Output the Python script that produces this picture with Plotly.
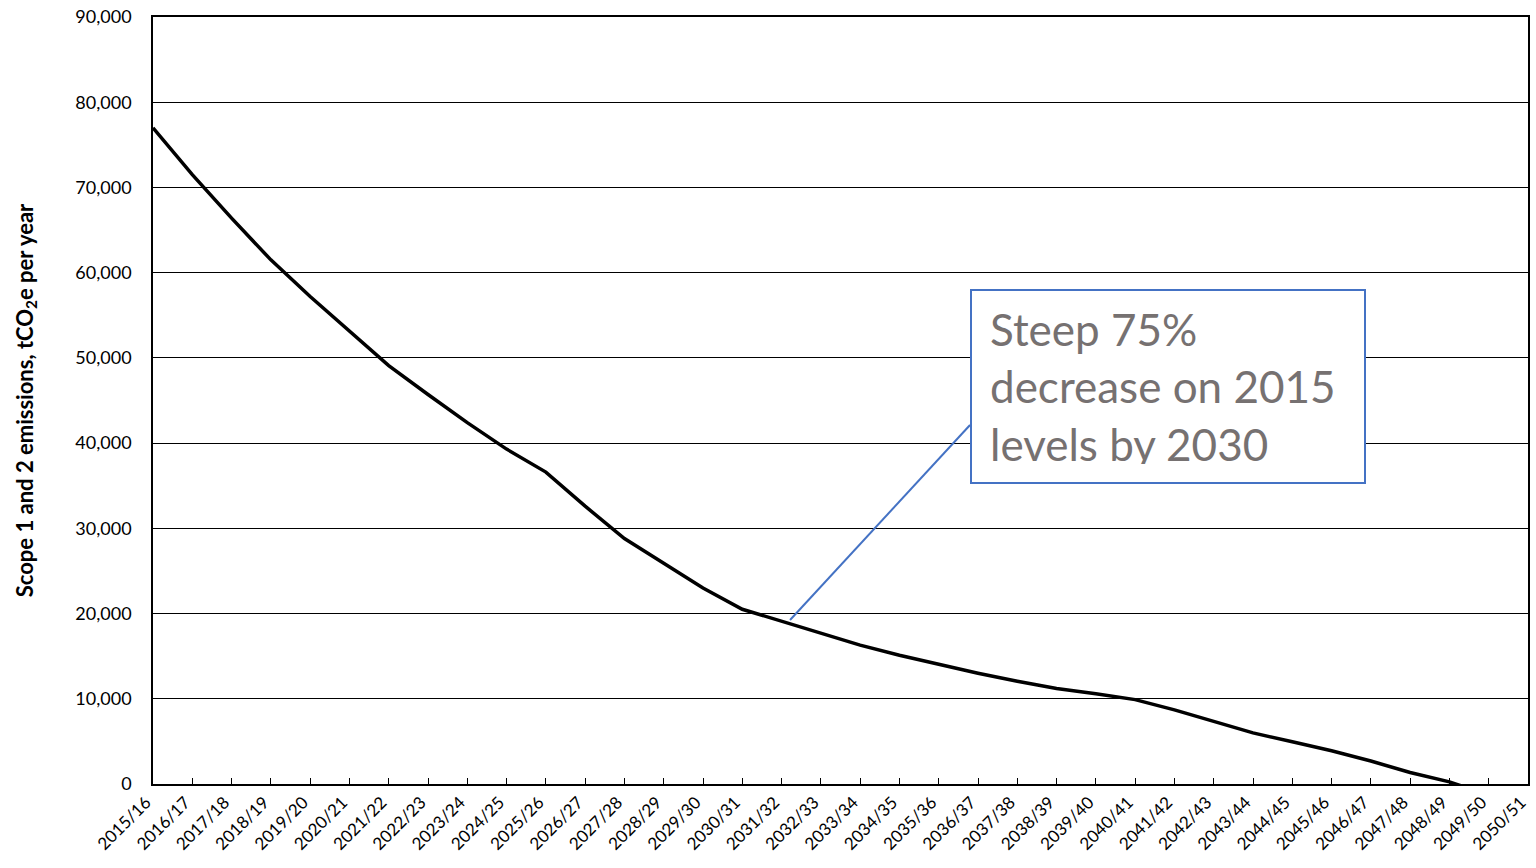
import plotly.graph_objects as go

categories = ["2015/16", "2016/17", "2017/18", "2018/19", "2019/20", "2020/21", "2021/22",
              "2022/23", "2023/24", "2024/25", "2025/26", "2026/27", "2027/28", "2028/29",
              "2029/30", "2030/31", "2031/32", "2032/33", "2033/34", "2034/35", "2035/36",
              "2036/37", "2037/38", "2038/39", "2039/40", "2040/41", "2041/42", "2042/43",
              "2043/44", "2044/45", "2045/46", "2046/47", "2047/48", "2048/49", "2049/50",
              "2050/51"]
emissions = [77000, 71500, 66400, 61500, 57200, 53100, 49100, 45700, 42400, 39300,
             36600, 32600, 28800, 25900, 23000, 20500, 19100, 17700, 16300, 15100,
             14000, 13000, 12050, 11200, 10600, 9900, 8700, 7400, 6000, 4950,
             3900, 2700, 1350, 250, -1300, None]
y_ticks = [0, 10000, 20000, 30000, 40000, 50000, 60000, 70000, 80000, 90000]

idx = list(range(len(categories)))

fig = go.Figure()
fig.add_trace(go.Scatter(x=idx, y=emissions, mode="lines",
                         line=dict(color="black", width=3.5), showlegend=False,
                         connectgaps=False))

FONT = "Lato, 'Open Sans', sans-serif"

fig.update_layout(
    width=1536, height=868,
    margin=dict(l=153, r=8, t=17, b=84),
    paper_bgcolor="white", plot_bgcolor="white",
    font=dict(family=FONT, color="black"),
    xaxis=dict(
        range=[0, len(categories) - 1], automargin=False,
        tickmode="array", tickvals=idx, ticktext=categories,
        tickangle=-45, tickfont=dict(size=17, color="black"),
        ticklabelshift=-7, ticklabeloverflow="allow",
        ticks="inside", ticklen=6, tickcolor="black", tickwidth=1.3,
        showgrid=False, zeroline=False,
        showline=True, linecolor="black", linewidth=1.6, mirror=True,
    ),
    yaxis=dict(
        range=[0, 90000], automargin=False,
        tickmode="array", tickvals=y_ticks,
        tickformat=",", tickfont=dict(size=18, color="black"),
        ticklabeloverflow="allow",
        showgrid=True, gridcolor="black", gridwidth=1.4,
        zeroline=False, ticks="", ticklabelstandoff=16,
        showline=True, linecolor="black", linewidth=1.6, mirror=True,
        title=dict(text="<b>Scope 1 and 2 emissions, tCO<sub>2</sub>e per year</b>",
                   font=dict(size=22, color="black"), standoff=36),
    ),
)

# callout connector
fig.add_shape(type="line", xref="paper", yref="paper",
              x0=0.4633, y0=0.2138, x1=0.5942, y1=0.468,
              line=dict(color="#4472C4", width=2))

# callout box
fig.add_annotation(
    xref="paper", yref="paper", x=0.5942, y=0.6454,
    xanchor="left", yanchor="top", showarrow=False,
    text="Steep 75%<br>decrease on 2015<br>levels by 2030",
    align="left", valign="middle",
    font=dict(family=FONT, size=44, color="#767171"),
    bgcolor="white", bordercolor="#4472C4", borderwidth=2, borderpad=18,
    width=356, height=155,
)

fig.write_html("out.html", config={"displayModeBar": False},
               post_script="document.body.style.margin='0';document.body.style.overflow='hidden';")
